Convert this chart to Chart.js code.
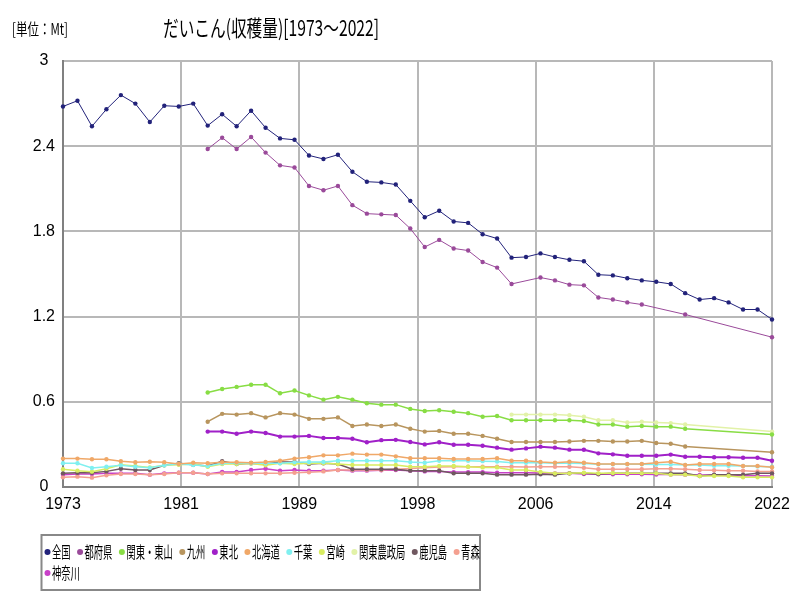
<!DOCTYPE html>
<html lang="ja">
<head>
<meta charset="utf-8">
<title>だいこん(収穫量)</title>
<script src="https://cdn.jsdelivr.net/npm/chart.js@4.4.1/dist/chart.umd.min.js"></script>
<style>
  html, body { margin: 0; padding: 0; background: #fff; }
  #wrap { width: 800px; height: 600px; }
</style>
</head>
<body>
<div id="wrap"><canvas id="chart" width="800" height="600"></canvas></div>
<script>
// タイトルと単位
const TITLE = 'だいこん(収穫量)[1973～2022]';
const UNIT = '[単位：Mt]';

// 年 (1973〜2022)
const years = [
  1973, 1974, 1975, 1976, 1977, 1978, 1979, 1980, 1981, 1982,
  1983, 1984, 1985, 1986, 1987, 1988, 1989, 1990, 1991, 1992,
  1993, 1994, 1995, 1996, 1997, 1998, 1999, 2000, 2001, 2002,
  2003, 2004, 2005, 2006, 2007, 2008, 2009, 2010, 2011, 2012,
  2013, 2014, 2015, 2016, 2017, 2018, 2019, 2020, 2021, 2022
];

// 目盛りラベル
const xTickLabels = ['1973', '1981', '1989', '1998', '2006', '2014', '2022'];
const yTickLabels = ['0', '0.6', '1.2', '1.8', '2.4', '3'];

// 系列名
const seriesNames = ['全国', '都府県', '関東・東山', '九州', '東北', '北海道', '千葉', '宮崎', '関東農政局', '鹿児島', '青森', '神奈川'];

// 各系列の値 (Mt)
const zenkoku = [
  2.68, 2.72, 2.54, 2.66, 2.76, 2.70, 2.57, 2.685, 2.68, 2.70,
  2.545, 2.625, 2.54, 2.65, 2.53, 2.455, 2.445, 2.335, 2.31, 2.34,
  2.22, 2.15, 2.145, 2.13, 2.015, 1.90, 1.945, 1.87, 1.86, 1.78,
  1.75, 1.615, 1.62, 1.645, 1.62, 1.60, 1.59, 1.495, 1.49, 1.47,
  1.455, 1.445, 1.43, 1.365, 1.32, 1.33, 1.30, 1.25, 1.25, 1.18
];
const tofuken = [
  null, null, null, null, null, null, null, null, null, null,
  2.38, 2.46, 2.38, 2.465, 2.355, 2.265, 2.25, 2.12, 2.09, 2.12,
  1.985, 1.925, 1.92, 1.915, 1.82, 1.69, 1.74, 1.68, 1.665, 1.585,
  1.545, 1.43, null, 1.475, 1.455, 1.425, 1.42, 1.335, 1.32, 1.30,
  1.285, null, null, 1.215, null, null, null, null, null, 1.055
];
const kantoTozan = [
  null, null, null, null, null, null, null, null, null, null,
  0.665, 0.69, 0.705, 0.72, 0.72, 0.66, 0.68, 0.645, 0.615, 0.635,
  0.615, 0.59, 0.58, 0.58, 0.55, 0.535, 0.54, 0.53, 0.52, 0.495,
  0.50, 0.47, 0.47, 0.47, 0.47, 0.47, 0.465, 0.44, 0.44, 0.425,
  0.43, 0.425, 0.425, 0.41, null, null, null, null, null, 0.37
];
const kyushu = [
  null, null, null, null, null, null, null, null, null, null,
  0.46, 0.515, 0.51, 0.52, 0.49, 0.52, 0.51, 0.48, 0.48, 0.49,
  0.43, 0.44, 0.43, 0.44, 0.41, 0.39, 0.395, 0.375, 0.375, 0.36,
  0.34, 0.317, 0.317, 0.317, 0.317, 0.32, 0.325, 0.325, 0.32, 0.32,
  0.325, 0.31, 0.305, 0.285, null, null, null, null, null, 0.245
];
const tohoku = [
  null, null, null, null, null, null, null, null, null, null,
  0.39, 0.39, 0.375, 0.39, 0.38, 0.355, 0.355, 0.36, 0.345, 0.345,
  0.34, 0.315, 0.33, 0.332, 0.317, 0.30, 0.315, 0.298, 0.298, 0.29,
  0.277, 0.263, 0.272, 0.284, 0.277, 0.263, 0.262, 0.237, 0.23, 0.22,
  0.22, 0.22, 0.228, 0.213, 0.213, 0.209, 0.209, 0.206, 0.206, 0.185
];
const hokkaido = [
  0.20, 0.20, 0.195, 0.195, 0.181, 0.174, 0.178, 0.174, 0.162, 0.171,
  0.167, 0.174, 0.174, 0.171, 0.176, 0.185, 0.20, 0.209, 0.223, 0.223,
  0.235, 0.228, 0.228, 0.216, 0.202, 0.202, 0.202, 0.197, 0.197, 0.197,
  0.202, 0.185, 0.185, 0.176, 0.171, 0.178, 0.171, 0.162, 0.162, 0.162,
  0.162, 0.171, 0.178, 0.155, 0.162, 0.162, 0.162, 0.148, 0.148, 0.139
];
const chiba = [
  0.167, 0.167, 0.134, 0.143, 0.153, 0.143, 0.135, 0.153, 0.162, 0.155,
  0.148, 0.167, 0.17, 0.167, 0.167, 0.167, 0.175, 0.176, 0.176, 0.185,
  0.185, 0.185, 0.185, 0.185, 0.176, 0.171, 0.185, 0.185, 0.185, 0.182,
  0.18, 0.171, 0.17, 0.17, 0.168, 0.168, 0.165, 0.16, 0.16, 0.16,
  0.16, 0.158, 0.158, 0.155, 0.155, 0.15, 0.15, 0.148, 0.145, 0.143
];
const miyazaki = [
  0.125, 0.115, 0.108, 0.129, 0.157, 0.148, 0.138, 0.153, 0.157, 0.162,
  0.143, 0.162, 0.162, 0.165, 0.153, 0.167, 0.162, 0.167, 0.167, 0.162,
  0.155, 0.155, 0.155, 0.155, 0.143, 0.143, 0.148, 0.148, 0.143, 0.138,
  0.138, 0.12, 0.12, 0.106, 0.096, 0.096, 0.10, 0.096, 0.098, 0.096,
  0.096, 0.096, 0.087, 0.087, 0.077, 0.077, 0.077, 0.068, 0.068, 0.068
];
const kantoNoseikyoku = [
  null, null, null, null, null, null, null, null, null, null,
  null, null, null, null, null, null, null, null, null, null,
  null, null, null, null, null, null, null, null, null, null,
  null, 0.51, 0.51, 0.51, 0.51, 0.505, 0.495, 0.47, 0.47, 0.455,
  0.46, 0.455, 0.45, 0.44, null, null, null, null, null, 0.39
];
const kagoshima = [
  0.096, 0.10, 0.10, 0.11, 0.129, 0.12, 0.12, 0.153, 0.167, 0.157,
  0.148, 0.181, 0.162, 0.167, 0.162, 0.176, 0.176, 0.162, 0.167, 0.162,
  0.125, 0.125, 0.125, 0.125, 0.115, 0.115, 0.115, 0.096, 0.096, 0.096,
  0.087, 0.087, 0.087, 0.09, 0.087, 0.096, 0.096, 0.092, 0.096, 0.096,
  0.096, 0.096, 0.096, 0.096, 0.077, 0.087, 0.087, 0.087, 0.096, 0.096
];
const aomori = [
  0.068, 0.073, 0.066, 0.082, 0.092, 0.092, 0.087, 0.092, 0.10, 0.10,
  0.092, 0.096, 0.096, 0.096, 0.096, 0.096, 0.10, 0.103, 0.11, 0.12,
  0.12, 0.12, 0.12, 0.125, 0.13, 0.135, 0.14, 0.143, 0.143, 0.143,
  0.143, 0.143, 0.14, 0.143, 0.143, 0.143, 0.135, 0.125, 0.125, 0.125,
  0.125, 0.128, 0.128, 0.125, 0.12, 0.118, 0.115, 0.115, 0.11, 0.11
];
const kanagawa = [
  0.087, 0.092, 0.092, 0.096, 0.096, 0.096, 0.087, 0.096, 0.10, 0.10,
  0.092, 0.106, 0.106, 0.12, 0.129, 0.115, 0.12, 0.115, 0.115, 0.12,
  0.115, 0.115, 0.118, 0.12, 0.115, 0.11, 0.11, 0.105, 0.105, 0.105,
  0.10, 0.10, 0.10, 0.098, 0.096, 0.096, 0.092, 0.09, 0.09, 0.09,
  0.09, 0.088, 0.088, 0.087, 0.085, 0.085, 0.082, 0.08, 0.08, 0.078
];

const seriesValues = [zenkoku, tofuken, kantoTozan, kyushu, tohoku, hokkaido, chiba, miyazaki, kantoNoseikyoku, kagoshima, aomori, kanagawa];

// 系列の色と線幅
const seriesColors = ['#22227a', '#9a4a9a', '#88dd44', '#b8955e', '#a020c8', '#f0a868', '#80f0f0', '#d8ec60', '#e2f2a8', '#705860', '#f4a090', '#c840c8'];
const seriesWidths = [1, 1, 1.5, 1.5, 2, 1.5, 1.5, 1.5, 1.5, 1.5, 1.5, 1.5];

const TICK_FONT = { family: '"Liberation Sans", Arial, sans-serif', size: 16 };
const JP_FONT = '"Noto Sans CJK JP", sans-serif';

// 横方向に縮めた文字を描く (元画像の細い書体に合わせる)
function drawNarrowText(ctx, text, x, y, size, scaleX, color) {
    ctx.save();
    ctx.font = size + 'px ' + JP_FONT;
    ctx.fillStyle = color;
    ctx.textAlign = 'left';
    ctx.textBaseline = 'middle';
    ctx.translate(x, y);
    ctx.scale(scaleX, 1);
    ctx.fillText(text, 0, 0);
    const w = ctx.measureText(text).width * scaleX;
    ctx.restore();
    return w;
}

// 指定幅に収まる倍率を求める
function fitScale(ctx, text, size, width) {
    ctx.save();
    ctx.font = size + 'px ' + JP_FONT;
    const w = ctx.measureText(text).width;
    ctx.restore();
    return width / w;
}

// タイトル・単位・凡例の描画
const pageTextPlugin = {
    id: 'pageText',
    afterDraw(chart) {
        const ctx = chart.ctx;

        // タイトル
        drawNarrowText(ctx, TITLE, 163, 28, 22, fitScale(ctx, TITLE, 22, 216), '#000');
        // 単位
        drawNarrowText(ctx, UNIT, 12, 29, 16, fitScale(ctx, UNIT, 16, 56), '#000');

        // 凡例の枠
        const box = { left: 41.5, top: 535, right: 480, bottom: 590 };
        ctx.save();
        ctx.strokeStyle = '#888';
        ctx.lineWidth = 2;
        ctx.strokeRect(box.left, box.top, box.right - box.left, box.bottom - box.top);
        ctx.restore();

        // 凡例の項目
        const legendSize = 16;
        const legendScale = 0.58;
        const rowY = [552, 573];
        let row = 0;
        let x = 42;
        chart.data.datasets.forEach(ds => {
            ctx.save();
            ctx.font = legendSize + 'px ' + JP_FONT;
            const textW = ctx.measureText(ds.label).width * legendScale;
            ctx.restore();
            if (x + 10 + textW > box.right + 2) {
                row++;
                x = 42;
            }
            const y = rowY[row];
            ctx.save();
            ctx.fillStyle = ds.borderColor;
            ctx.beginPath();
            ctx.arc(x + 5.5, y, 3, 0, Math.PI * 2);
            ctx.fill();
            ctx.restore();
            const w = drawNarrowText(ctx, ds.label, x + 10, y, legendSize, legendScale, '#000');
            x = x + 10 + w + 4;
        });
    }
};

// グラフ作成
function renderChart() {
    const ctx = document.getElementById('chart').getContext('2d');

    const datasets = seriesNames.map((name, i) => ({
        label: name,
        data: seriesValues[i],
        borderColor: seriesColors[i],
        backgroundColor: seriesColors[i],
        borderWidth: seriesWidths[i],
        pointRadius: 2.2,
        pointBorderWidth: 0,
        pointBackgroundColor: seriesColors[i],
        pointHoverRadius: 3,
        tension: 0,
        spanGaps: true,
        clip: false,
        fill: false
    }));

    window.radishChart = new Chart(ctx, {
        type: 'line',
        data: {
            labels: years,
            datasets: datasets
        },
        options: {
            responsive: false,
            animation: false,
            layout: {
                padding: { left: 0, right: 28, top: 61, bottom: 0 }
            },
            scales: {
                x: {
                    type: 'linear',
                    min: 1973,
                    max: 2022,
                    afterBuildTicks: function(scale) {
                        scale.ticks = xTickLabels.map((t, i) => ({ value: 1973 + i * 49 / 6 }));
                    },
                    afterFit: function(scale) {
                        scale.height = 113;
                    },
                    ticks: {
                        font: TICK_FONT,
                        color: '#000',
                        padding: 8,
                        maxRotation: 0,
                        autoSkip: false,
                        callback: function(value, index) {
                            return xTickLabels[index];
                        }
                    },
                    grid: {
                        color: '#b8b8b8',
                        lineWidth: 2,
                        drawTicks: false
                    },
                    border: {
                        color: '#808080',
                        width: 2
                    }
                },
                y: {
                    min: 0,
                    max: 3,
                    afterBuildTicks: function(scale) {
                        scale.ticks = yTickLabels.map(t => ({ value: parseFloat(t) }));
                    },
                    afterFit: function(scale) {
                        scale.width = 63;
                    },
                    ticks: {
                        font: TICK_FONT,
                        color: '#000',
                        padding: 8,
                        crossAlign: 'center',
                        callback: function(value, index) {
                            return yTickLabels[index];
                        }
                    },
                    grid: {
                        color: '#b8b8b8',
                        lineWidth: 2,
                        drawTicks: false
                    },
                    border: {
                        color: '#808080',
                        width: 2
                    }
                }
            },
            plugins: {
                legend: { display: false },
                title: { display: false },
                tooltip: { enabled: false }
            }
        },
        plugins: [pageTextPlugin]
    });
}

renderChart();
</script>
</body>
</html>
